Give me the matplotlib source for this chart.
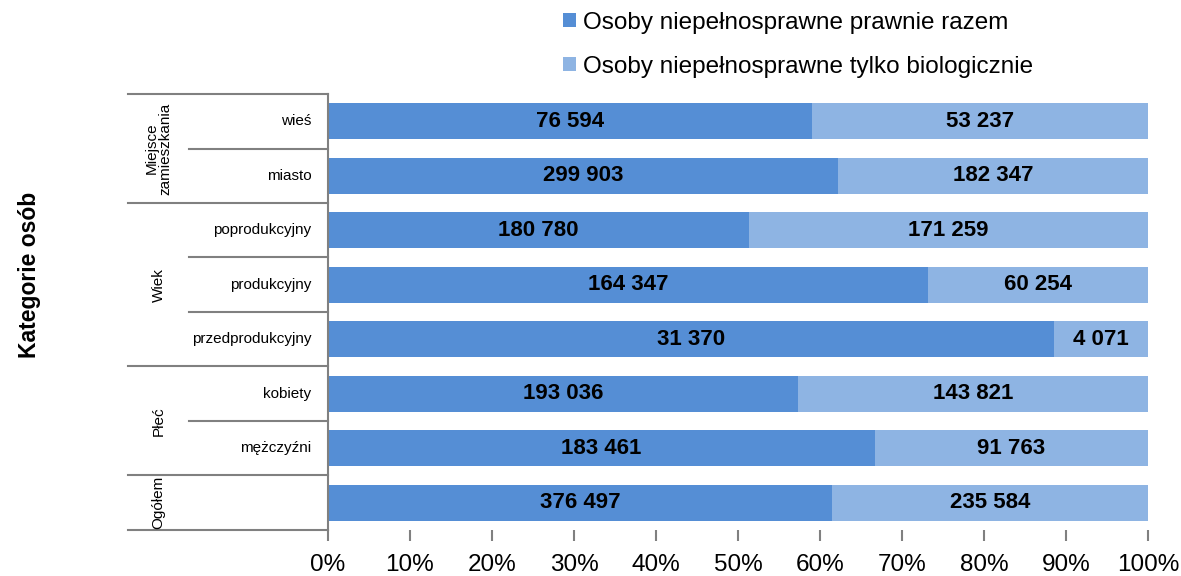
import numpy as np
import matplotlib.pyplot as plt
import matplotlib.transforms as mtransforms

plt.rcParams['font.family'] = ['Liberation Sans', 'DejaVu Sans']

# data (top to bottom)
categories = ["wieś", "miasto", "poprodukcyjny", "produkcyjny", "przedprodukcyjny",
              "kobiety", "mężczyźni", ""]
legal = [76594, 299903, 180780, 164347, 31370, 193036, 183461, 376497]
biological = [53237, 182347, 171259, 60254, 4071, 143821, 91763, 235584]
groups = [("Miejsce\nzamieszkania", 0, 1), ("Wiek", 2, 4), ("Płeć", 5, 6), ("Ogółem", 7, 7)]
series_names = ["Osoby niepełnosprawne prawnie razem",
                "Osoby niepełnosprawne tylko biologicznie"]
colors = ["#558ED5", "#8EB4E3"]

legal = np.array(legal, dtype=float)
biological = np.array(biological, dtype=float)
total = legal + biological
p_legal = legal / total * 100
p_bio = biological / total * 100
y = np.arange(len(categories))

fig = plt.figure(figsize=(11.81, 5.76), dpi=100)
ax = fig.add_axes([0.2777, 0.0799, 0.6943, 0.7569])

b1 = ax.barh(y, p_legal, height=0.66, color=colors[0], label=series_names[0])
b2 = ax.barh(y, p_bio, left=p_legal, height=0.66, color=colors[1], label=series_names[1])

def fmt(v):
    return f"{int(v):,}".replace(",", " ")

lab_kw = dict(ha="center", va="center", fontsize=16, fontweight="bold", color="black")
for i in range(len(y)):
    ax.text(p_legal[i] / 2, y[i], fmt(legal[i]), **lab_kw)
    ax.text(p_legal[i] + p_bio[i] / 2, y[i], fmt(biological[i]), **lab_kw)

ax.set_xlim(0, 100)
ax.set_ylim(len(categories) - 0.5, -0.5)
ax.set_xticks(np.arange(0, 101, 10))
ax.set_xticklabels([f"{t}%" for t in range(0, 101, 10)], fontsize=17.5)
ax.tick_params(axis="x", length=8, width=1.5, color="#808080", pad=9)
ax.set_yticks([])
for s in ["top", "right", "bottom"]:
    ax.spines[s].set_visible(False)
ax.spines["left"].set_color("#808080")
ax.spines["left"].set_linewidth(1.5)

# category table left of the axes
trans = mtransforms.blended_transform_factory(ax.transAxes, ax.transData)
x_outer = (128 - 328) / 820
x_inner = (189 - 328) / 820
line_kw = dict(color="#808080", lw=1.5, transform=trans, clip_on=False)

for i, c in enumerate(categories):
    ax.text(-0.02, y[i], c, ha="right", va="center", fontsize=11, transform=trans)

group_starts = set(g[1] for g in groups)
for k in range(len(categories) + 1):
    yy = k - 0.5
    x0 = x_outer if (k in group_starts or k == len(categories)) else x_inner
    ax.plot([x0, 0], [yy, yy], **line_kw)

for name, a, b in groups:
    ax.text((x_outer + x_inner) / 2, (a + b) / 2, name, rotation=90, ha="center",
            va="center", fontsize=11, transform=trans, linespacing=0.95)

fig.text(30 / 1181, 1 - 275 / 576, "Kategorie osób", rotation=90, ha="center",
         va="center", fontsize=16.5, fontweight="bold")

fig.legend(handles=[b1, b2], loc="upper left", bbox_to_anchor=(548 / 1181, 1.005),
           frameon=False, fontsize=17.5, handlelength=0.55, handleheight=0.55,
           handletextpad=0.3, labelspacing=0.9, borderaxespad=0.2)

fig.savefig("out.png", dpi=100)
